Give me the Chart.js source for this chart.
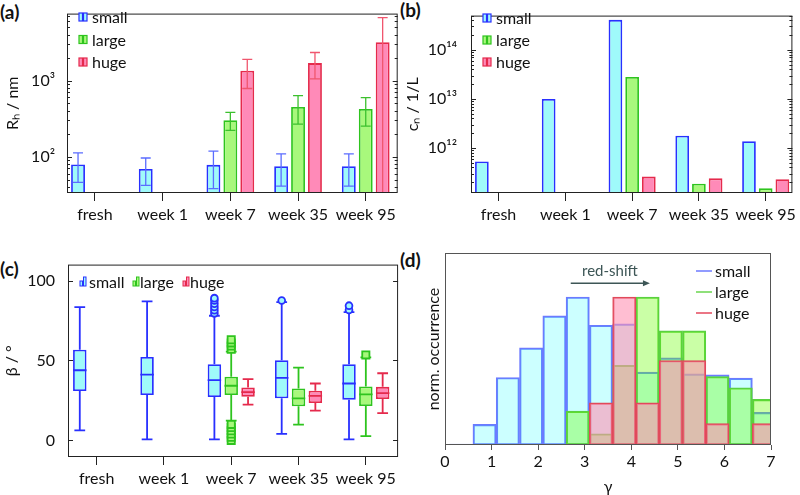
<!DOCTYPE html>
<html>
<head>
<meta charset="utf-8">
<script src="https://cdn.jsdelivr.net/npm/chart.js@4.4.0/dist/chart.umd.min.js"></script>
<style>
  body { margin: 0; background: #fff; width: 800px; height: 495px; position: relative; overflow: hidden; font-family: Lato, sans-serif; }
  canvas { position: absolute; }
  .tag { position: absolute; font-weight: bold; font-size: 19px; line-height: 19px; color: #111; }
</style>
</head>
<body>
<div class="tag" style="left:0;top:2px">(a)</div>
<div class="tag" style="left:400px;top:0">(b)</div>
<div class="tag" style="left:0;top:259px">(c)</div>
<div class="tag" style="left:400px;top:250px">(d)</div>
<canvas id="chartA" width="400" height="250" style="left:0;top:0"></canvas>
<canvas id="chartB" width="400" height="250" style="left:400px;top:0"></canvas>
<canvas id="chartC" width="400" height="245" style="left:0;top:250px"></canvas>
<canvas id="chartD" width="400" height="245" style="left:400px;top:250px"></canvas>
<script>
const weeks = ['fresh', 'week 1', 'week 7', 'week 35', 'week 95'];
const sizeNames = ['small', 'large', 'huge'];

// (a) hydrodynamic radius in nm, with +/- errors
const rhSmall = [79, 69, 78, 75, 75];
const rhLarge = [null, null, 301, 450, 424];
const rhHuge = [null, null, 1341, 1693, 3177];
const rhSmallErr = [33, 27, 40, 34, 34];
const rhLargeErr = [null, null, 80, 182, 172];
const rhHugeErr = [null, null, 555, 642, 3520];
const rhTickVals = [100, 1000];
const rhTickLabels = ['10²', '10³'];

// (b) number concentration in 1/L
const cnSmall = [5.3e11, 1.0e13, 4.1e14, 1.78e12, 1.37e12];
const cnLarge = [null, null, 2.8e13, 1.86e11, 1.5e11];
const cnHuge = [null, null, 2.6e11, 2.4e11, 2.3e11];
const cnTickVals = [1e12, 1e13, 1e14];
const cnTickLabels = ['10¹²', '10¹³', '10¹⁴'];

// (c) beta: [low whisker, q1, median, q3, high whisker]
const betaSmall = [[6.2, 30.9, 43.9, 56.7, 83.4], [0.6, 28.4, 41.2, 52.2, 87], [0.6, 27.1, 37.7, 47.6, 78], [4.1, 26.3, 39.1, 50.1, 86.5], [0.6, 25.5, 35.6, 47.6, 80.3]];
const betaLarge = [null, null, [12.4, 28.4, 34.2, 39.8, 55.5], [9.9, 21.3, 26.3, 32.5, 45.5], [2.7, 21.5, 28.8, 33.7, 52]];
const betaHuge = [null, null, [22.4, 27.3, 30.2, 33.1, 38.3], [18.6, 23.4, 27.8, 31.1, 35.6], [17, 25.9, 29.6, 33.5, 42]];
const betaSmallOut = [[], [], [79.5, 81.5, 83.5, 85.5, 87.5, 89], [87.5], [81.6, 84.3]];
const betaLargeOut = [[], [], [0, 2, 4, 6, 8, 10, 57, 59, 61, 63], [], [53.5]];
const betaHugeOut = [[], [], [], [], []];
const betaTicks = [0, 50, 100];

// (d) gamma histogram, normalised occurrence
const gammaBins = [0.35, 0.85, 1.35, 1.85, 2.35, 2.85, 3.35, 3.85, 4.35, 4.85, 5.35, 5.85, 6.35, 6.85];
const histSmall = [0.007, 0.139, 0.456, 0.656, 0.872, 1.0, 0.809, 0.818, 0.492, 0.589, 0.481, 0.474, 0.452, 0.22];
const histLarge = [null, null, null, null, null, 0.229, 0.076, 0.539, 1.0, 0.771, 0.771, 0.463, 0.387, 0.308];
const histHuge = [null, null, null, null, null, null, 0.285, 1.0, 0.285, 0.571, 0.571, 0.144, null, 0.144];
const gammaTicks = [0, 1, 2, 3, 4, 5, 6, 7];

const fills = ['#9ffafa', '#a8f87c', '#ff8ab8'];
const edges = ['#2830ff', '#2ec41e', '#e52a4c'];
const errCols = ['#5b6cff', '#3cc02e', '#f0566e'];
const ink = '#222';
const font = { family: 'Lato, sans-serif', size: 16 };

Chart.defaults.font.family = 'Lato, sans-serif';
Chart.defaults.color = '#111';

const pts = arr => arr.map((v, i) => ({ x: i, y: v }));

function logMinor(min, max) {
  const out = [];
  for (let e = Math.floor(Math.log10(min)); e <= Math.ceil(Math.log10(max)); e++) {
    for (let k = 1; k < 10; k++) {
      const v = k * Math.pow(10, e);
      if (v >= min && v <= max) out.push({ v, major: k === 1 });
    }
  }
  return out;
}

// box around the plot with short inward ticks on both y sides
function framePlugin(color, yTicks) {
  return {
    id: 'frame',
    afterDraw(chart) {
      const { ctx, chartArea: a } = chart;
      const ys = chart.scales.y;
      ctx.save();
      ctx.strokeStyle = color;
      ctx.lineWidth = 1;
      ctx.strokeRect(a.left + 0.5, a.top + 0.5, a.width - 1, a.height - 1);
      const list = yTicks === 'log' ? logMinor(ys.min, ys.max) : (yTicks || []).map(v => ({ v, major: true }));
      list.forEach(t => {
        const py = Math.round(ys.getPixelForValue(t.v)) + 0.5;
        const len = t.major ? 5 : 3;
        ctx.beginPath();
        ctx.moveTo(a.left, py); ctx.lineTo(a.left + len, py);
        ctx.moveTo(a.right, py); ctx.lineTo(a.right - len, py);
        ctx.stroke();
      });
      ctx.restore();
    }
  };
}

function barIcon(ctx, x, y, i) {
  ctx.fillStyle = fills[i];
  ctx.strokeStyle = edges[i];
  ctx.lineWidth = 1.2;
  [0, 4.5].forEach(dx => {
    ctx.fillRect(x + dx, y - 4, 3.5, 8);
    ctx.strokeRect(x + dx, y - 4, 3.5, 8);
  });
}

function stackLegend(x, y0, dy) {
  return {
    id: 'stackLegend',
    afterDraw(chart) {
      const ctx = chart.ctx;
      ctx.save();
      ctx.font = '16px Lato, sans-serif';
      ctx.textBaseline = 'middle';
      sizeNames.forEach((name, i) => {
        const y = y0 + i * dy;
        barIcon(ctx, x, y, i);
        ctx.fillStyle = '#111';
        ctx.fillText(name, x + 13, y + 1);
      });
      ctx.restore();
    }
  };
}

const errorBars = {
  id: 'errorBars',
  afterDatasetsDraw(chart) {
    const { ctx, chartArea: a } = chart;
    const ys = chart.scales.y;
    ctx.save();
    ctx.beginPath(); ctx.rect(a.left, a.top, a.width, a.height); ctx.clip();
    chart.data.datasets.forEach((ds, i) => {
      if (!ds.err) return;
      chart.getDatasetMeta(i).data.forEach((bar, j) => {
        const v = ds.data[j].y, e = ds.err[j];
        if (v == null || e == null) return;
        const top = ys.getPixelForValue(v + e);
        const bot = v - e > 0 ? ys.getPixelForValue(v - e) : a.bottom + 2;
        ctx.strokeStyle = ds.errColor;
        ctx.lineWidth = 1.3;
        ctx.beginPath();
        ctx.moveTo(bar.x, top); ctx.lineTo(bar.x, bot);
        ctx.moveTo(bar.x - 5, top); ctx.lineTo(bar.x + 5, top);
        if (v - e > 0) { ctx.moveTo(bar.x - 5, bot); ctx.lineTo(bar.x + 5, bot); }
        ctx.stroke();
      });
    });
    ctx.restore();
  }
};

const whiskers = {
  id: 'whiskers',
  afterDatasetsDraw(chart) {
    const { ctx } = chart;
    const ys = chart.scales.y;
    ctx.save();
    chart.data.datasets.forEach((ds, i) => {
      if (!ds.stats) return;
      chart.getDatasetMeta(i).data.forEach((bar, j) => {
        const s = ds.stats[j];
        if (!s) return;
        const x = bar.x, half = bar.width / 2, cap = bar.width * 0.4;
        const p = s.map(v => ys.getPixelForValue(v));
        ctx.strokeStyle = ds.borderColor;
        ctx.lineWidth = 1.8;
        ctx.beginPath();
        ctx.moveTo(x, p[1]); ctx.lineTo(x, p[0]);
        ctx.moveTo(x - cap, p[0]); ctx.lineTo(x + cap, p[0]);
        ctx.moveTo(x, p[3]); ctx.lineTo(x, p[4]);
        ctx.moveTo(x - cap, p[4]); ctx.lineTo(x + cap, p[4]);
        ctx.moveTo(x - half, p[2]); ctx.lineTo(x + half, p[2]);
        ctx.stroke();
        ctx.fillStyle = ds.backgroundColor;
        (ds.outliers[j] || []).forEach(o => {
          const py = ys.getPixelForValue(o);
          ctx.beginPath();
          if (ds.outShape === 'circle') ctx.arc(x, py, 3.4, 0, Math.PI * 2);
          else ctx.rect(x - 3.6, py - 3.6, 7.2, 7.2);
          ctx.fill(); ctx.stroke();
        });
      });
    });
    ctx.restore();
  }
};

const boxLegend = {
  id: 'boxLegend',
  afterDraw(chart) {
    const ctx = chart.ctx;
    const spots = [[80, 89], [133, 140], [183, 190]];
    ctx.save();
    ctx.font = '16px Lato, sans-serif';
    ctx.textBaseline = 'middle';
    sizeNames.forEach((name, i) => {
      const [ix, tx] = spots[i];
      const y = 32;
      ctx.fillStyle = fills[i];
      ctx.strokeStyle = edges[i];
      ctx.lineWidth = 1;
      ctx.fillRect(ix, y - 1, 2.5, 5); ctx.strokeRect(ix, y - 1, 2.5, 5);
      ctx.fillRect(ix + 3.5, y - 5, 2.5, 9); ctx.strokeRect(ix + 3.5, y - 5, 2.5, 9);
      ctx.fillStyle = '#111';
      ctx.fillText(name, tx, y + 1);
    });
    ctx.restore();
  }
};

const histDecor = {
  id: 'histDecor',
  afterDraw(chart) {
    const ctx = chart.ctx;
    const xs = chart.scales.x, ys = chart.scales.y;
    ctx.save();
    // legend
    ctx.font = '16px Lato, sans-serif';
    ctx.textBaseline = 'middle';
    const lineCols = ['#6c7aff', '#6ad64e', '#e4485c'];
    sizeNames.forEach((name, i) => {
      const y = 21 + i * 21;
      ctx.strokeStyle = lineCols[i];
      ctx.lineWidth = 1.5;
      ctx.beginPath(); ctx.moveTo(296, y); ctx.lineTo(312, y); ctx.stroke();
      ctx.fillStyle = '#111';
      ctx.fillText(name, 315, y + 1);
    });
    // red-shift arrow
    const x0 = xs.getPixelForValue(2.7), x1 = xs.getPixelForValue(4.4);
    const ya = ys.getPixelForValue(1.093);
    ctx.strokeStyle = '#3d5656';
    ctx.fillStyle = '#3d5656';
    ctx.lineWidth = 1.4;
    ctx.beginPath(); ctx.moveTo(x0, ya); ctx.lineTo(x1 - 4, ya); ctx.stroke();
    ctx.beginPath(); ctx.moveTo(x1, ya); ctx.lineTo(x1 - 7, ya - 3); ctx.lineTo(x1 - 7, ya + 3); ctx.closePath(); ctx.fill();
    ctx.font = '15px Lato, sans-serif';
    ctx.textAlign = 'center';
    ctx.fillStyle = '#3d5656';
    ctx.fillText('red-shift', xs.getPixelForValue(3.54), ys.getPixelForValue(1.175));
    ctx.restore();
  }
};

function catAxis(min, max, height) {
  return {
    type: 'linear', min, max, offset: false,
    afterBuildTicks: s => { s.ticks = weeks.map((w, i) => ({ value: i })); },
    afterFit: s => { s.height = height; },
    ticks: { callback: v => weeks[v], font, padding: 4, maxRotation: 0, autoSkip: false },
    grid: { offset: false, drawOnChartArea: false, tickLength: 8, color: ink, tickWidth: 1 },
    border: { display: false }
  };
}

function sideAxis(type, min, max, vals, labels, width, title, titlePad, tickPad) {
  return {
    type, min, max,
    afterBuildTicks: s => { s.ticks = vals.map(v => ({ value: v })); },
    afterFit: s => { s.width = width; },
    ticks: { callback: v => labels[vals.indexOf(v)], font, padding: tickPad, autoSkip: false },
    grid: { display: false },
    border: { display: false },
    title: { display: true, text: title, font, padding: { top: titlePad, bottom: 0 } }
  };
}

const commonOpts = {
  responsive: false,
  animation: false,
  plugins: { legend: { display: false }, tooltip: { enabled: false } }
};

// (a)
new Chart(document.getElementById('chartA'), {
  type: 'bar',
  data: {
    datasets: [rhSmall, rhLarge, rhHuge].map((arr, i) => ({
      label: sizeNames[i], data: pts(arr),
      err: [rhSmallErr, rhLargeErr, rhHugeErr][i], errColor: errCols[i],
      backgroundColor: fills[i], borderColor: edges[i], borderWidth: 1.8,
      categoryPercentage: 0.75, barPercentage: 0.82
    }))
  },
  options: {
    ...commonOpts,
    layout: { padding: { top: 1, right: 2, left: 0, bottom: 0 } },
    scales: {
      x: catAxis(-0.413, 4.472, 57),
      y: sideAxis('logarithmic', 33.3, 7570, rhTickVals, rhTickLabels, 67, 'Rₕ / nm', 3, 4)
    }
  },
  plugins: [errorBars, framePlugin(ink, 'log'), stackLegend(79, 17, 22.5)]
});

// (b)
new Chart(document.getElementById('chartB'), {
  type: 'bar',
  data: {
    datasets: [cnSmall, cnLarge, cnHuge].map((arr, i) => ({
      label: sizeNames[i], data: pts(arr),
      backgroundColor: fills[i], borderColor: edges[i], borderWidth: 1.8,
      categoryPercentage: 0.75, barPercentage: 0.82
    }))
  },
  options: {
    ...commonOpts,
    layout: { padding: { top: 1, right: 3, left: 0, bottom: 0 } },
    scales: {
      x: catAxis(-0.413, 4.4, 57),
      y: sideAxis('logarithmic', 1.205e11, 5.0e14, cnTickVals, cnTickLabels, 71, 'cₙ / 1/L', 3.5, 6)
    }
  },
  plugins: [framePlugin(ink, 'log'), stackLegend(83, 18, 22)]
});

// (c)
new Chart(document.getElementById('chartC'), {
  type: 'bar',
  data: {
    datasets: [betaSmall, betaLarge, betaHuge].map((arr, i) => ({
      label: sizeNames[i],
      data: arr.map((s, j) => ({ x: j, y: s ? [s[1], s[3]] : null })),
      stats: arr, outliers: [betaSmallOut, betaLargeOut, betaHugeOut][i],
      outShape: i === 0 ? 'circle' : 'square',
      backgroundColor: fills[i], borderColor: edges[i], borderWidth: 1.8, borderSkipped: false,
      categoryPercentage: 0.75, barPercentage: 0.8
    }))
  },
  options: {
    ...commonOpts,
    layout: { padding: { top: 13, right: 1, left: 0, bottom: 0 } },
    scales: {
      x: catAxis(-0.425, 4.479, 38),
      y: sideAxis('linear', -10.4, 110, betaTicks, betaTicks.map(String), 68, 'β / °', 2, 5)
    }
  },
  plugins: [whiskers, framePlugin(ink, betaTicks), boxLegend]
});

// (d)
const histFills = ['rgba(0,255,255,0.2)', 'rgba(102,255,0,0.35)', 'rgba(255,147,180,0.6)'];
const histEdges = ['#6c7aff', '#5ad040', '#e04a5a'];
new Chart(document.getElementById('chartD'), {
  type: 'bar',
  data: {
    datasets: [histSmall, histLarge, histHuge].map((arr, i) => ({
      label: sizeNames[i],
      data: arr.map((v, j) => ({ x: gammaBins[j], y: v })),
      backgroundColor: histFills[i], borderColor: histEdges[i], borderWidth: 1.5, borderSkipped: false,
      grouped: false, barPercentage: 1, categoryPercentage: 1, order: 3 - i, clip: 0
    }))
  },
  options: {
    ...commonOpts,
    layout: { padding: { top: 3, right: 29, left: 0, bottom: 0 } },
    scales: {
      x: {
        type: 'linear', min: 0, max: 7, offset: false,
        afterBuildTicks: s => { s.ticks = gammaTicks.map(v => ({ value: v })); },
        afterFit: s => { s.height = 50; },
        ticks: { font, padding: 2, maxRotation: 0 },
        grid: { offset: false, drawOnChartArea: false, tickLength: 5, color: '#555' },
        border: { display: false },
        title: { display: true, text: 'γ', font: { family: 'Lato, sans-serif', size: 16, lineHeight: 1 }, padding: { top: 0, bottom: 0 } }
      },
      y: {
        type: 'linear', min: 0, max: 1.297,
        afterFit: s => { s.width = 45; },
        ticks: { display: false },
        grid: { display: false },
        border: { display: false },
        title: { display: true, text: 'norm. occurrence', font, padding: { top: 24.5, bottom: 0 } }
      }
    }
  },
  plugins: [framePlugin('#555', []), histDecor]
});
</script>
</body>
</html>
